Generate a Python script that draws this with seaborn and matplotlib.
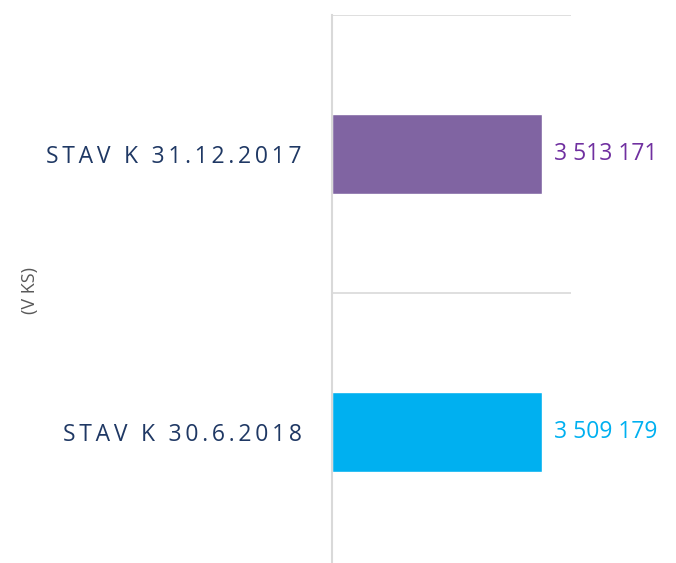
import matplotlib
matplotlib.use("Agg")
import matplotlib.pyplot as plt
import seaborn as sns
import pandas as pd

categories = ["STAV K 31.12.2017", "STAV K 30.6.2018"]
values = [3513171, 3509179]
value_labels = ["3 513 171", "3 509 179"]
bar_colors = ["#8064a2", "#00b0f0"]
text_colors = ["#7030a0", "#00b0f0"]
y_title = "(V KS)"

sns.set_theme(style="white")
plt.rcParams['font.family'] = ['Open Sans', 'DejaVu Sans']

def spaced(s, sp="\u2009"):
    return sp.join(list(s))

df = pd.DataFrame({"cat": categories, "val": values})

fig = plt.figure(figsize=(6.76, 5.63), dpi=100)
ax = fig.add_axes([332/676, 0.0, 239/676, 548/563])

sns.barplot(data=df, x="val", y="cat", hue="cat", palette=bar_colors,
            orient="h", width=0.29, ax=ax, legend=False, saturation=1)

ax.set_xlim(0, 4000000)
ax.set_ylim(1.471, -0.5)
for y in [-0.5, 0.5]:
    ax.axhline(y, color="#d9d9d9", lw=1.2, zorder=0)

for s in ["top", "right", "bottom"]:
    ax.spines[s].set_visible(False)
ax.spines["left"].set_color("#d9d9d9")
ax.spines["left"].set_linewidth(1.5)

ax.set_xticks([])
ax.set_xlabel("")
ax.set_ylabel("")
ax.set_yticks([0, 1])
ax.set_yticklabels([spaced(c) for c in categories], color="#1f3864", fontsize=16.5)
ax.tick_params(axis="y", length=0, pad=22)

for i, (v, lab, c) in enumerate(zip(values, value_labels, text_colors)):
    ax.text(v + 4000000 * 12/239, i, lab, color=c, fontsize=16.5, va="center", ha="left")

fig.text(30/676, 1 - 290/563, y_title, rotation=90, color="#595959", fontsize=13,
         ha="center", va="center")

fig.savefig("out.png", dpi=100)
